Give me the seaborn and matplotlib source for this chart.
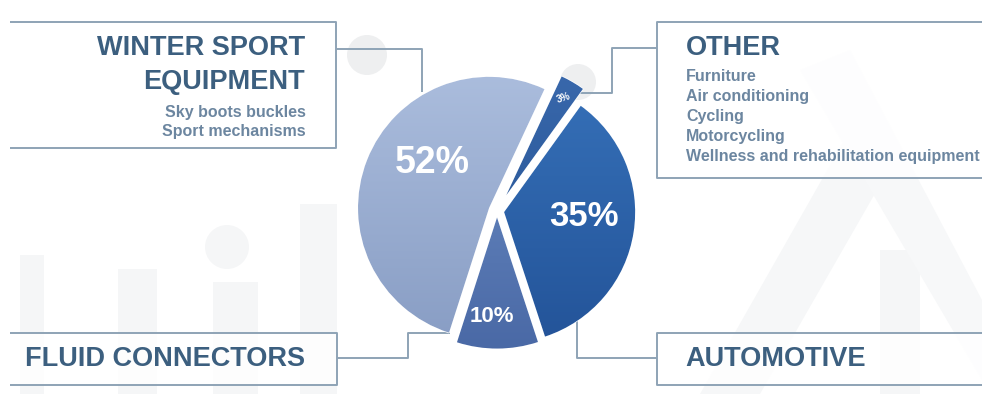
import numpy as np
import matplotlib
matplotlib.use("Agg")
import matplotlib.pyplot as plt
import seaborn as sns
from matplotlib.patches import Rectangle, Circle, Polygon
from matplotlib.colors import LinearSegmentedColormap

# Market share by application segment (clockwise from the top)
segments = ["OTHER", "AUTOMOTIVE", "FLUID CONNECTORS", "WINTER SPORT EQUIPMENT"]
shares = [3, 35, 10, 52]
other_items = ["Furniture", "Air conditioning", "Cycling", "Motorcycling",
               "Wellness and rehabilitation equipment"]
winter_items = ["Sky boots buckles", "Sport mechanisms"]

# Styling
top_colors = ["#3a69ad", "#3671b9", "#6d8fc6", "#abbddd"]
bottom_colors = ["#22508f", "#235398", "#4968a5", "#889dc4"]
explode = [0.14, 0.055, 0.05, 0.065]   # fraction of the radius
label_sizes = [7, 25, 16, 27]
label_dist = [0.86, 0.61, 0.76, 0.55]
label_turn = [0, 6, -3, -17]            # degrees off the wedge bisector
label_rot = [18, 0, 0, 0]

TITLE_C = "#3c5f7f"
SUB_C = "#6c86a0"
LINE_C = "#8ea3b6"

sns.set_theme(style="white")
plt.rcParams["font.family"] = ["Liberation Sans", "DejaVu Sans"]

W, H = 982, 394
fig = plt.figure(figsize=(W / 100, H / 100), dpi=100)
ax = fig.add_axes([0, 0, 1, 1])


def Y(py):
    return H - py


# faint watermark shapes in the background
bg = "#f5f6f7"
for x0, y0, w in [(20, 255, 24), (118, 269, 39), (213, 282, 45), (300, 204, 37),
                  (880, 250, 40)]:
    ax.add_patch(Rectangle((x0, Y(H)), w, H - y0, color=bg, zorder=0, lw=0))
ax.add_patch(Circle((227, Y(247)), 22, color=bg, zorder=0, lw=0))
ax.add_patch(Circle((367, Y(55)), 20, color="#eeeff0", zorder=0, lw=0))
ax.add_patch(Circle((578, Y(82)), 18, color="#eeeff0", zorder=0, lw=0))
ax.add_patch(Polygon([(700, Y(394)), (760, Y(394)), (900, Y(150)), (850, Y(130))],
                     closed=True, color="#f6f7f8", zorder=0, lw=0))
ax.add_patch(Polygon([(800, Y(70)), (850, Y(50)), (982, Y(300)), (982, Y(380))],
                     closed=True, color="#f7f8f9", zorder=0, lw=0))

# pie
cx, cy, R = 497, Y(211), 131
wedges, _ = ax.pie(shares, explode=[e * R for e in explode], startangle=65,
                   counterclock=False, center=(cx, cy), radius=R,
                   colors=bottom_colors,
                   wedgeprops=dict(edgecolor="white", linewidth=1.0), frame=True)

# vertical shading inside every wedge
grad = np.linspace(0, 1, 256).reshape(-1, 1)
pad = 6
for w, c0, c1 in zip(wedges, bottom_colors, top_colors):
    w.set_zorder(2)
    wx, wy = w.center
    cmap = LinearSegmentedColormap.from_list("g", [c0, c1])
    im = ax.imshow(grad, extent=[wx - R - pad, wx + R + pad, wy - R - pad, wy + R + pad],
                   origin="lower", cmap=cmap, aspect="auto", zorder=3,
                   interpolation="bilinear")
    im.set_clip_path(w)

for w, v, fs, d, turn, rot in zip(wedges, shares, label_sizes, label_dist,
                                  label_turn, label_rot):
    ang = np.deg2rad((w.theta1 + w.theta2) / 2 + turn)
    wx, wy = w.center
    ax.text(wx + d * R * np.cos(ang), wy + d * R * np.sin(ang), f"{v}%",
            ha="center", va="center", color="white", fontsize=fs,
            fontweight="bold", rotation=rot, zorder=5)


def path(pts, **kw):
    xs = [p[0] for p in pts]
    ys = [Y(p[1]) for p in pts]
    ax.plot(xs, ys, color=LINE_C, lw=1.4, zorder=1, solid_capstyle="butt", **kw)


def panel(x0, x1, y0, y1, open_side):
    ax.add_patch(Rectangle((x0, Y(y1)), x1 - x0, y1 - y0, facecolor="white",
                           edgecolor="none", alpha=0.85, zorder=1))
    if open_side == "left":
        path([(x0, y0), (x1, y0), (x1, y1), (x0, y1)])
    else:
        path([(x1, y0), (x0, y0), (x0, y1), (x1, y1)])


# WINTER SPORT EQUIPMENT
panel(10, 336, 22, 148, "left")
path([(336, 49), (422, 49), (422, 92)])
ax.text(305, Y(48), "WINTER SPORT", ha="right", va="center", fontsize=19.5,
        fontweight="bold", color=TITLE_C, zorder=4)
ax.text(305, Y(82), "EQUIPMENT", ha="right", va="center", fontsize=19.5,
        fontweight="bold", color=TITLE_C, zorder=4)
for i, t in enumerate(winter_items):
    ax.text(306, Y(112 + 19.5 * i), t, ha="right", va="center", fontsize=11.5,
            fontweight="bold", color=SUB_C, zorder=4)

# OTHER
panel(657, 990, 22, 178, "right")
path([(657, 48), (612, 48), (612, 93), (580, 93)])
ax.text(686, Y(48), "OTHER", ha="left", va="center", fontsize=19.5,
        fontweight="bold", color=TITLE_C, zorder=4)
for i, t in enumerate(other_items):
    ax.text(686, Y(76 + 20 * i), t, ha="left", va="center", fontsize=11.5,
            fontweight="bold", color=SUB_C, zorder=4)

# FLUID CONNECTORS
panel(10, 337, 333, 385, "left")
path([(337, 358), (408, 358), (408, 333), (450, 333)])
ax.text(25, Y(359), "FLUID CONNECTORS", ha="left", va="center", fontsize=19.5,
        fontweight="bold", color=TITLE_C, zorder=4)

# AUTOMOTIVE
panel(657, 990, 333, 385, "right")
path([(657, 358), (577, 358), (577, 320)])
ax.text(685, Y(359), "AUTOMOTIVE", ha="left", va="center", fontsize=19.5,
        fontweight="bold", color=TITLE_C, zorder=4)

ax.set_xlim(0, W)
ax.set_ylim(0, H)
ax.axis("off")
fig.savefig("out.png", dpi=100, facecolor="white")
